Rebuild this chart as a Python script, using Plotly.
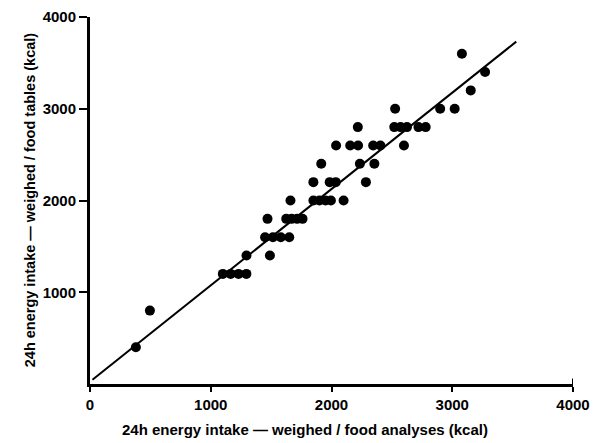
import plotly.graph_objects as go

# Data (kcal)
food_analyses = [380, 496,
                 1100, 1165, 1230, 1295,
                 1296, 1490,
                 1450, 1515, 1580, 1650,
                 1470, 1625, 1670, 1715, 1760,
                 1660, 1850, 1900, 1950, 1995, 2100,
                 1850, 1985, 2035, 2285,
                 1915, 2235, 2355,
                 2038, 2155, 2220, 2345, 2405, 2600,
                 2218, 2520, 2572, 2625, 2720, 2780,
                 2527, 2900, 3020,
                 3153, 3272, 3080]
food_tables = [400, 800,
               1200, 1200, 1200, 1200,
               1400, 1400,
               1600, 1600, 1600, 1600,
               1800, 1800, 1800, 1800, 1800,
               2000, 2000, 2000, 2000, 2000, 2000,
               2200, 2200, 2200, 2200,
               2400, 2400, 2400,
               2600, 2600, 2600, 2600, 2600, 2600,
               2800, 2800, 2800, 2800, 2800, 2800,
               3000, 3000, 3000,
               3200, 3400, 3600]

# Regression line (as drawn)
line_x = [20, 3530]
line_slope = 1.05
line_intercept = 25
line_y = [line_slope * v + line_intercept for v in line_x]

x_ticks = [0, 1000, 2000, 3000, 4000]
y_ticks = [1000, 2000, 3000, 4000]

font_family = "Liberation Sans, Arial, sans-serif"

fig = go.Figure()
fig.add_trace(go.Scatter(x=line_x, y=line_y, mode="lines",
                         line=dict(color="black", width=2), hoverinfo="skip"))
fig.add_trace(go.Scatter(x=food_analyses, y=food_tables, mode="markers",
                         marker=dict(color="black", size=10)))

# the page offsets the figure by 8px, so it is sized to fit inside the window
fig.update_layout(
    width=592, height=435,
    margin=dict(l=82, r=27, t=9, b=59),
    plot_bgcolor="white", paper_bgcolor="white",
    showlegend=False,
    font=dict(family=font_family, color="black", size=15),
)
fig.update_xaxes(range=[0, 4000], tickvals=x_ticks, ticktext=[str(v) for v in x_ticks],
                 showgrid=False, zeroline=False, showline=True, linecolor="black",
                 linewidth=3, ticks="outside", ticklen=5, tickwidth=2, tickcolor="black",
                 ticklabeloverflow="allow", automargin=False,
                 tickfont=dict(family=font_family, size=15, weight="bold"))
fig.update_yaxes(range=[0, 4000], tickvals=y_ticks, ticktext=[str(v) for v in y_ticks],
                 showgrid=False, zeroline=False, showline=True, linecolor="black",
                 linewidth=3, ticks="outside", ticklen=8, tickwidth=2, tickcolor="black",
                 ticklabeloverflow="allow", automargin=False,
                 tickfont=dict(family=font_family, size=15, weight="bold"))

fig.add_shape(type="line", xref="x", yref="y domain", x0=4000, x1=4000, y0=0, y1=0.015,
              line=dict(color="black", width=2))

fig.add_annotation(text="<b>24h energy intake \u2014 weighed / food analyses (kcal)</b>",
                   xref="paper", yref="paper", x=0.446, y=-0.125,
                   xanchor="center", yanchor="middle", showarrow=False,
                   font=dict(family=font_family, size=15))
fig.add_annotation(text="<b>24h energy intake \u2014 weighed / food tables (kcal)</b>",
                   xref="paper", yref="paper", x=-0.124, y=0.501,
                   xanchor="center", yanchor="middle", showarrow=False, textangle=-90,
                   font=dict(family=font_family, size=14.5))

fig.write_html("out.html")
